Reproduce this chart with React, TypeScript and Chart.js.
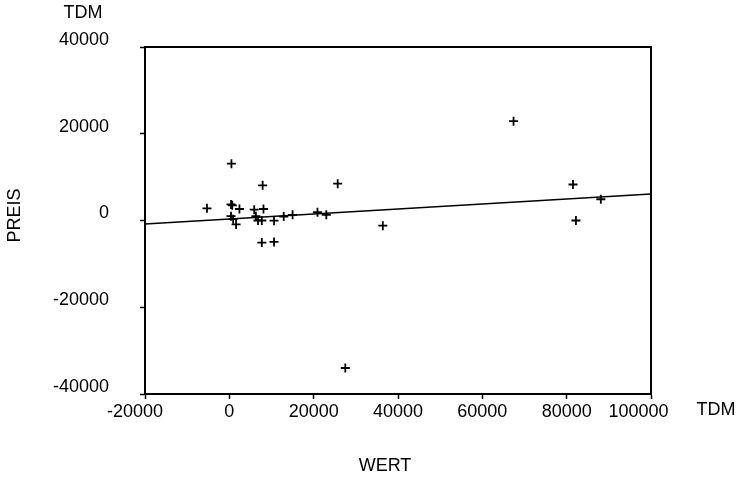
import React, { useEffect, useRef } from "react";
import { Chart, registerables } from "chart.js";

Chart.register(...registerables);

// Data (TDM)
const WERT: number[] = [500, 7900, 25700, -5300, 400, 700, 2400, 5900, 8100, 400, 900, 1600, 6300, 6800, 7700, 10600, 12900, 15000, 20900, 23000, 36400, 7700, 10600, 67400, 81500, 88100, 82200, 27500];
const PREIS: number[] = [13100, 8100, 8500, 2800, 3700, 3500, 2650, 2500, 2650, 1000, 300, -900, 1000, 0, 0, -50, 900, 1300, 1900, 1300, -1200, -5100, -4950, 22900, 8300, 4900, 0, -34000];

// Fitted line: PREIS = REG_INTERCEPT + REG_SLOPE * WERT
const REG_INTERCEPT = 350;
const REG_SLOPE = 0.0575;

const X_MIN = -20000;
const X_MAX = 100000;
const X_STEP = 20000;
const Y_MIN = -40000;
const Y_MAX = 40000;
const Y_STEP = 20000;

const X_TITLE = "WERT";
const Y_TITLE = "PREIS";
const UNIT = "TDM";

const FONT = "'Liberation Sans', Arial, Helvetica, sans-serif";

export default function App() {
  const ref = useRef<HTMLCanvasElement | null>(null);

  useEffect(() => {
    document.body.style.margin = "0";
    const canvas = ref.current;
    if (!canvas) return;

    const points = WERT.map((x, i) => ({ x, y: PREIS[i] }));
    const line = [X_MIN, X_MAX].map((x) => ({ x, y: REG_INTERCEPT + REG_SLOPE * x }));

    const textPlugin = {
      id: "extraText",
      afterDraw(chart: any) {
        const { ctx, chartArea } = chart;
        ctx.save();
        // frame
        ctx.strokeStyle = "#000";
        ctx.lineWidth = 2;
        ctx.strokeRect(chartArea.left, chartArea.top, chartArea.right - chartArea.left, chartArea.bottom - chartArea.top);
        ctx.fillStyle = "#000";
        ctx.font = `18px ${FONT}`;
        ctx.textAlign = "center";
        ctx.textBaseline = "middle";
        // unit labels
        ctx.fillText(UNIT, chartArea.left - 62, 13);
        ctx.fillText(UNIT, chartArea.right + 65, chartArea.bottom + 16);
        // x title
        ctx.fillText(X_TITLE, (chartArea.left + chartArea.right) / 2 - 13, 466);
        // y title
        ctx.translate(15, (chartArea.top + chartArea.bottom) / 2 - 5);
        ctx.rotate(-Math.PI / 2);
        ctx.fillText(Y_TITLE, 0, 0);
        ctx.restore();
      },
    };

    const chart = new Chart(canvas, {
      type: "scatter",
      data: {
        datasets: [
          {
            label: "Fit",
            type: "line",
            data: line,
            borderColor: "#000",
            borderWidth: 1.5,
            pointRadius: 0,
            fill: false,
            order: 2,
          } as any,
          {
            label: "Data",
            data: points,
            pointStyle: "cross",
            pointRadius: 4.5,
            pointBorderWidth: 1.8,
            borderColor: "#000",
            backgroundColor: "#000",
            order: 1,
          },
        ],
      },
      plugins: [textPlugin],
      options: {
        animation: false,
        responsive: false,
        maintainAspectRatio: false,
        layout: { padding: { top: 47, right: 86, left: 0, bottom: 0 } },
        plugins: {
          legend: { display: false },
          tooltip: { enabled: false },
          title: { display: false },
        },
        scales: {
          x: {
            type: "linear",
            min: X_MIN,
            max: X_MAX,
            afterFit: (scale: any) => {
              scale.height = 84;
            },
            ticks: {
              stepSize: X_STEP,
              autoSkip: false,
              color: "#000",
              padding: 2,
              maxRotation: 0,
              minRotation: 0,
              font: { family: FONT, size: 18 },
              callback: (v: any) => {
                const n = Number(v);
                if (n === X_MIN) return String(n) + "    ";
                if (n === X_MAX) return String(n) + "     ";
                return String(n);
              },
            },
            grid: {
              drawOnChartArea: false,
              drawTicks: true,
              tickLength: 5,
              color: "#000",
              tickWidth: 1.5,
            },
            border: { display: true, color: "#000", width: 2 },
          },
          y: {
            type: "linear",
            min: Y_MIN,
            max: Y_MAX,
            afterFit: (scale: any) => {
              scale.width = 145;
            },
            ticks: {
              stepSize: Y_STEP,
              autoSkip: false,
              color: "#000",
              padding: 31,
              labelOffset: -7,
              font: { family: FONT, size: 18 },
              callback: (v: any) => String(v),
            },
            grid: {
              drawOnChartArea: false,
              drawTicks: true,
              tickLength: 5,
              color: "#000",
              tickWidth: 1.5,
            },
            border: { display: true, color: "#000", width: 2 },
          },
        },
      },
    });

    return () => chart.destroy();
  }, []);

  return (
    <div style={{ width: 737, height: 478, position: "relative", background: "#fff" }}>
      <canvas ref={ref} width={737} height={478} style={{ width: 737, height: 478, display: "block" }} />
    </div>
  );
}
